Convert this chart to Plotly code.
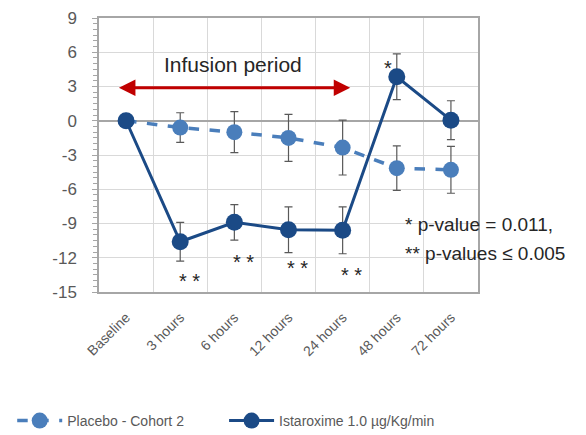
import plotly.graph_objects as go

# Time points after start of infusion
categories = ["Baseline", "3 hours", "6 hours", "12 hours", "24 hours", "48 hours", "72 hours"]

# Placebo - Cohort 2: mean change and error
placebo_mean = [0, -0.6, -1.0, -1.5, -2.35, -4.15, -4.3]
placebo_err = [0, 1.3, 1.8, 2.05, 2.4, 1.95, 2.05]

# Istaroxime 1.0 µg/Kg/min: mean change and error
istar_mean = [0, -10.6, -8.9, -9.55, -9.6, 3.85, 0.05]
istar_err = [0, 1.7, 1.55, 2.0, 2.05, 2.0, 1.7]

# Y axis ticks (plain hyphen for negatives)
y_tick_vals = [9, 6, 3, 0, -3, -6, -9, -12, -15]
y_tick_text = ["9", "6", "3", "0", "-3", "-6", "-9", "-12", "-15"]

# Significance markers: (category index, y position, label)
sig_marks = [(1, -13.65, "* *"), (2, -12.0, "* *"), (3, -12.55, "* *"), (4, -13.15, "* *")]

PLACEBO_C = "#4A7EBB"
ISTAR_C = "#1B4A86"
GRID_C = "#D9D9D9"
AXIS_C = "#A6A6A6"
TEXT_C = "#595959"
DARK_T = "#262626"
FONT = "Liberation Sans"

fig = go.Figure()

fig.add_trace(go.Scatter(
    x=categories, y=placebo_mean, name="Placebo - Cohort 2",
    mode="lines+markers", legend="legend",
    line=dict(color=PLACEBO_C, width=3.5, dash="dash"),
    marker=dict(size=16, color=PLACEBO_C),
    error_y=dict(type="data", array=placebo_err, visible=True,
                 color="#595959", thickness=1.2, width=4),
))

fig.add_trace(go.Scatter(
    x=categories, y=istar_mean, name="Istaroxime 1.0 µg/Kg/min",
    mode="lines+markers", legend="legend2",
    line=dict(color=ISTAR_C, width=3),
    marker=dict(size=17, color=ISTAR_C),
    error_y=dict(type="data", array=istar_err, visible=True,
                 color="#595959", thickness=1.2, width=4),
))

annotations = []
for idx, yv, txt in sig_marks:
    annotations.append(dict(x=idx, y=yv, xref="x", yref="y", text=txt,
                            showarrow=False, xshift=9, yshift=-4,
                            font=dict(family=FONT, size=20, color=DARK_T)))
annotations.append(dict(x=4.83, y=5.1, xref="x", yref="y", text="*",
                        showarrow=False, yshift=-5,
                        font=dict(family=FONT, size=20, color=DARK_T)))

# Infusion period double-headed arrow
annotations.append(dict(x=4.14, y=2.9, ax=-0.16, ay=2.9, xref="x", yref="y",
                        axref="x", ayref="y", text="", showarrow=True,
                        arrowside="end+start", arrowhead=2, arrowsize=1.1,
                        arrowwidth=3, arrowcolor="#C00000"))
annotations.append(dict(x=1.98, y=4.9, xref="x", yref="y", text="Infusion period",
                        showarrow=False, font=dict(family=FONT, size=21, color=DARK_T)))

# p-value footnote
annotations.append(dict(x=(403 - 99) / 379, y=(292 - 224) / 274, xref="paper", yref="paper",
                        xanchor="left", yanchor="middle", align="left",
                        text="* p-value = 0.011,", showarrow=False,
                        font=dict(family=FONT, size=19, color=DARK_T)))
annotations.append(dict(x=(403 - 99) / 379, y=(292 - 253) / 274, xref="paper", yref="paper",
                        xanchor="left", yanchor="middle", align="left",
                        text="** p-values ≤ 0.005", showarrow=False,
                        font=dict(family=FONT, size=19, color=DARK_T)))

legend_y = (292 - 421) / 274
legend_style = dict(orientation="h", y=legend_y, xanchor="left", yanchor="middle",
                    font=dict(family=FONT, size=14, color=TEXT_C),
                    itemwidth=45, bgcolor="rgba(0,0,0,0)")

fig.update_layout(
    width=586, height=435,
    margin=dict(l=99, r=108, t=18, b=143, autoexpand=False),
    paper_bgcolor="white", plot_bgcolor="white",
    font=dict(family=FONT, color=TEXT_C),
    showlegend=True,
    legend=dict(x=-0.229, **legend_style),
    legend2=dict(x=0.33, **legend_style),
    annotations=annotations,
)

fig.update_xaxes(
    type="category", range=[-0.5, 6.5], automargin=False,
    tickson="boundaries", showgrid=True, gridcolor=GRID_C, gridwidth=1,
    showline=True, linecolor=AXIS_C, linewidth=1.5, mirror=True,
    ticks="", tickangle=-45, ticklabelstandoff=10,
    tickfont=dict(family=FONT, size=14, color=TEXT_C),
)

fig.update_yaxes(
    range=[-15, 9], tickmode="array", tickvals=y_tick_vals, ticktext=y_tick_text,
    automargin=False,
    showgrid=True, gridcolor=GRID_C, gridwidth=1,
    zeroline=True, zerolinecolor=AXIS_C, zerolinewidth=2,
    showline=True, linecolor=AXIS_C, linewidth=1.5, mirror=True,
    ticks="outside", ticklen=5, tickcolor=AXIS_C,
    minor=dict(dtick=0.5, ticks="outside", ticklen=4, tickcolor=AXIS_C, showgrid=False),
    ticklabelstandoff=12,
    tickfont=dict(family=FONT, size=17, color=TEXT_C),
)

fig.write_html("out.html")
